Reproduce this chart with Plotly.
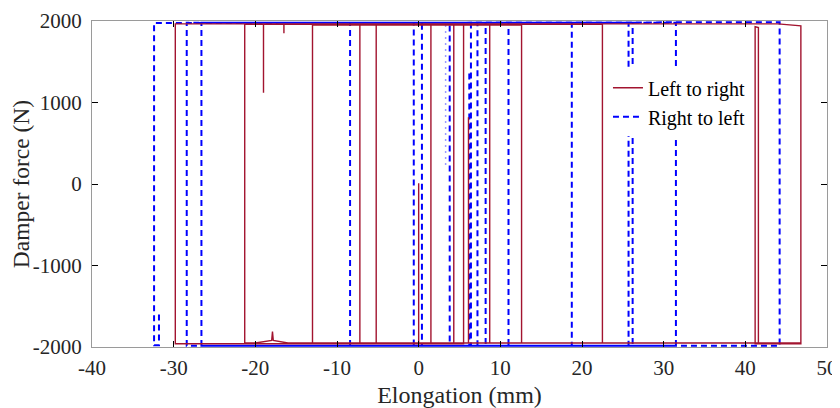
import plotly.graph_objects as go

# switch points (elongation mm, force N)
ltr_x = [46.8, 46.8, -16.0, -17.8, -17.9, -18.0, -20.0, -21.3, -21.3, -19.0, -19.0, -19.0,
         -16.5, -16.5, -16.5, 22.5, 22.5, -13.0, -13.0, 12.6, 12.6, -7.2, -7.2, 8.7,
         8.7, 6.1, 6.1, 6.1, -5.2, -5.2, 5.5, 5.5, 1.5, 1.5, 4.3, 4.3, 0.0, 0.0,
         0.0, -29.8, -29.8, 44.0, 46.8, 46.8, 41.6, 41.6, 41.2, 41.2, 46.8, 46.8]
ltr_y = [120, -1950, -1950, -1920, -1810, -1920, -1950, -1950, 1960, 1960, 1120, 1960,
         1960, 1850, 1960, 1960, -1950, -1950, 1950, 1950, -1950, -1950, 1950, 1950,
         -1950, -1950, 820, -1950, -1950, 1950, 1950, -1960, -1960, 1960, 1960, -1960, -1960, 10,
         -1960, -1960, 1965, 1965, 1940, -1950, -1950, 1920, 1930, -1960, -1960, -1950]

rtl_x = [-31.8, -31.8, -32.4, -32.4, 44.2, 44.2, -28.4, -28.4, 31.5, 31.5, -26.6, -26.6,
         26.2, 26.2, -8.4, -8.4, 25.7, 25.7, -0.6, -0.6, 18.75, 18.75, 0.4, 0.4,
         11.0, 11.0, 3.8, 3.8, 8.2, 8.2, 6.4, 6.4, 7.2, 7.2, 6.2, 6.2]
rtl_y = [-1600, -1980, -1980, 1975, 1985, -1985, -1985, 1980, 1980, -1985, -1985, 1980,
         1980, -1985, -1985, 1980, 1980, -1985, -1985, 1980, 1980, -1985, -1985, 1980,
         1980, -1985, -1985, 1980, 1980, -1985, -1985, 1980, 1980, -1985, -1985, 1380]

faint_x = [3.3, 3.3]
faint_y = [1950, 200]

x_ticks = [-40, -30, -20, -10, 0, 10, 20, 30, 40, 50]
y_ticks = [-2000, -1000, 0, 1000, 2000]

font = "Liberation Serif, Times New Roman, serif"

fig = go.Figure()
fig.add_trace(go.Scatter(x=faint_x, y=faint_y, mode="lines", showlegend=False,
                         line=dict(color="#9c9cff", width=1.5, dash="2px,4px"), hoverinfo="skip"))
fig.add_trace(go.Scatter(x=rtl_x, y=rtl_y, mode="lines", name="Right to left",
                         line=dict(color="#0000ff", width=2, dash="6px,4px")))
fig.add_trace(go.Scatter(x=ltr_x, y=ltr_y, mode="lines", name="Left to right",
                         line=dict(color="#a2142f", width=1.4)))

axis_common = dict(
    showgrid=False, zeroline=False, showline=True, linecolor="#9a9a9a", linewidth=1,
    mirror="ticks", ticks="inside", ticklen=6, tickcolor="#000000", tickwidth=1,
    tickfont=dict(family=font, size=21, color="#262626"), automargin=False,
)

fig.update_xaxes(range=[-40, 50], tickvals=x_ticks, ticktext=[str(v) for v in x_ticks],
                 title=dict(text="Elongation (mm)", font=dict(family=font, size=24, color="#262626"), standoff=6),
                 ticklabelstandoff=2, **axis_common)
fig.update_yaxes(range=[-2000, 2000], tickvals=y_ticks, ticktext=[str(v) for v in y_ticks],
                 title=dict(text="Damper force (N)", font=dict(family=font, size=23.5, color="#262626"), standoff=3),
                 ticklabelstandoff=5, **axis_common)

# the page body adds an 8px margin, so the figure is 8px smaller than the window
fig.update_layout(
    width=832, height=400,
    margin=dict(l=84, r=13, t=13, b=61),
    plot_bgcolor="white", paper_bgcolor="white",
    legend=dict(x=0.702, y=0.855, xanchor="left", yanchor="top", traceorder="reversed",
                bgcolor="white", borderwidth=0, itemwidth=30,
                font=dict(family=font, size=20, color="#000000"), tracegroupgap=0),
)

fig.write_html("out.html")
